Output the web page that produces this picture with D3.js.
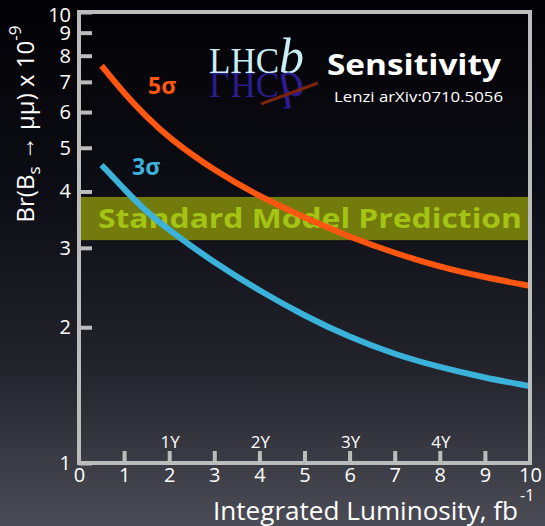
<!DOCTYPE html>
<html>
<head>
<meta charset="utf-8">
<script src="https://cdn.jsdelivr.net/npm/d3@7"></script>
<style>
  html, body { margin: 0; padding: 0; background: #000; }
  svg { display: block; font-family: "Open Sans", "Noto Sans", sans-serif; }
</style>
</head>
<body>
<div id="chart"></div>
<script>
// luminosity points (fb^-1) and the two sensitivity curves (x 10^-9)
const lumi = [0.5, 1, 1.5, 2, 3, 4, 5, 6, 7, 8, 9, 10];
const sigma5 = [7.6, 6.6, 5.85, 5.25, 4.45, 3.9, 3.5, 3.17, 2.92, 2.72, 2.58, 2.47];
const sigma3 = [4.58, 4.05, 3.6, 3.28, 2.78, 2.41, 2.12, 1.9, 1.74, 1.63, 1.545, 1.48];
const smBand = [3.12, 3.89];
const xTicks = [0, 1, 2, 3, 4, 5, 6, 7, 8, 9, 10];
const yTicks = [1, 2, 3, 4, 5, 6, 7, 8, 9, 10];
const yearPos = [2, 4, 6, 8];
const yearLabels = ['1Y', '2Y', '3Y', '4Y'];

const width = 545, height = 526;
const margin = { top: 12, right: 15, bottom: 63, left: 79 };

const svg = d3.select('#chart').append('svg')
    .attr('width', width)
    .attr('height', height);

// background gradient
const defs = svg.append('defs');
const grad = defs.append('linearGradient')
    .attr('id', 'bg').attr('x1', 0).attr('y1', 0).attr('x2', 0).attr('y2', 1);
grad.append('stop').attr('offset', '0%').attr('stop-color', '#020205');
grad.append('stop').attr('offset', '35%').attr('stop-color', '#0c0c14');
grad.append('stop').attr('offset', '70%').attr('stop-color', '#23232c');
grad.append('stop').attr('offset', '100%').attr('stop-color', '#4c4c56');
svg.append('rect').attr('width', width).attr('height', height).attr('fill', 'url(#bg)');

const x = d3.scaleLinear().domain([0, 10]).range([margin.left, width - margin.right]);
const y = d3.scaleLog().domain([1, 10]).range([height - margin.bottom, margin.top]);

// Standard Model band
svg.append('rect')
    .attr('x', x(0))
    .attr('y', y(smBand[1]))
    .attr('width', x(10) - x(0))
    .attr('height', y(smBand[0]) - y(smBand[1]))
    .attr('fill', '#737b0d');
svg.append('text')
    .attr('x', x(0) + 19)
    .attr('y', (y(smBand[0]) + y(smBand[1])) / 2)
    .attr('dy', '0.35em')
    .attr('font-size', 26)
    .attr('font-weight', 'bold')
    .attr('fill', '#a3c413')
    .attr('textLength', 424)
    .attr('lengthAdjust', 'spacingAndGlyphs')
    .text('Standard Model Prediction');

// curves
const line = d3.line().x(d => x(d[0])).y(d => y(d[1])).curve(d3.curveBasis);
svg.append('path')
    .datum(lumi.map((l, i) => [l, sigma3[i]]))
    .attr('d', line)
    .attr('fill', 'none').attr('stroke', '#3bb2d9').attr('stroke-width', 6);
svg.append('path')
    .datum(lumi.map((l, i) => [l, sigma5[i]]))
    .attr('d', line)
    .attr('fill', 'none').attr('stroke', '#ff5612').attr('stroke-width', 6);

svg.append('text')
    .attr('x', 148).attr('y', 94)
    .attr('font-size', 23).attr('font-weight', 'bold').attr('fill', '#ff5612')
    .text('5σ');
svg.append('text')
    .attr('x', 132).attr('y', 175)
    .attr('font-size', 23).attr('font-weight', 'bold').attr('fill', '#3bb2d9')
    .text('3σ');

// axes frame
const frameColor = '#bcbcbc';
svg.append('rect')
    .attr('x', x(0)).attr('y', y(10))
    .attr('width', x(10) - x(0)).attr('height', y(1) - y(10))
    .attr('fill', 'none').attr('stroke', frameColor).attr('stroke-width', 4);

const yAxis = svg.append('g')
    .attr('transform', `translate(${x(0)},0)`)
    .call(d3.axisLeft(y).tickValues(yTicks).tickFormat(d3.format('d')).tickSizeInner(-13).tickSizeOuter(0).tickPadding(8));
yAxis.select('.domain').remove();
yAxis.selectAll('line').attr('stroke', frameColor).attr('stroke-width', 4);
yAxis.selectAll('text').attr('fill', '#ffffff').attr('font-size', 20).attr('font-family', '"Open Sans", sans-serif');
yAxis.selectAll('.tick').filter(d => d === 10).select('text').attr('dy', '0.45em');

const xAxis = svg.append('g')
    .attr('transform', `translate(0,${y(1)})`)
    .call(d3.axisBottom(x).tickValues(xTicks).tickSizeInner(-12).tickSizeOuter(0).tickPadding(5));
xAxis.select('.domain').remove();
xAxis.selectAll('line').attr('stroke', frameColor).attr('stroke-width', 4)
    .attr('display', d => (d === 0 || d === 10) ? 'none' : null);
xAxis.selectAll('text').attr('fill', '#ffffff').attr('font-size', 20).attr('font-family', '"Open Sans", sans-serif');

// year markers
svg.selectAll('.year')
    .data(yearPos)
    .enter().append('text')
    .attr('class', 'year')
    .attr('x', d => x(d) + 1)
    .attr('y', y(1) - 15)
    .attr('text-anchor', 'middle')
    .attr('font-size', 17)
    .attr('fill', '#ffffff')
    .text((d, i) => yearLabels[i]);

// axis titles
const yTitle = svg.append('text')
    .attr('transform', 'translate(34,124) rotate(-90)')
    .attr('text-anchor', 'middle')
    .attr('font-size', 24)
    .attr('fill', '#ffffff');
yTitle.append('tspan').text('Br(B');
yTitle.append('tspan').attr('font-size', 17).attr('dy', 6).text('s');
yTitle.append('tspan').attr('dy', -6).text(' → μμ) x 10');
yTitle.append('tspan').attr('font-size', 17).attr('dy', -13).text('-9');

svg.append('text')
    .attr('x', 213).attr('y', 520)
    .attr('font-size', 25)
    .attr('fill', '#ffffff')
    .attr('textLength', 305)
    .attr('lengthAdjust', 'spacingAndGlyphs')
    .text('Integrated Luminosity, fb');
svg.append('text')
    .attr('x', 520).attr('y', 501)
    .attr('font-size', 16).attr('fill', '#ffffff')
    .text('-1');

// LHCb logo with its reflection
const logo = svg.append('g');
const logoText = (g, fill) => {
    const t = g.append('text')
        .attr('font-family', '"Liberation Serif", "DejaVu Serif", serif')
        .attr('font-size', 35)
        .attr('fill', fill);
    t.append('tspan').text('LHC');
    t.append('tspan').attr('font-style', 'italic').attr('font-size', 50).text('b');
    return t;
};
logoText(logo.append('g').attr('transform', 'translate(209,73)'), '#c9eef5');
logoText(logo.append('g').attr('transform', 'translate(209,73) scale(1,-1)'), '#2c1c8e');
logo.append('line')
    .attr('x1', 261).attr('y1', 104).attr('x2', 318).attr('y2', 83)
    .attr('stroke', '#7a2410').attr('stroke-width', 3);

svg.append('text')
    .attr('x', 327).attr('y', 75)
    .attr('font-size', 29).attr('font-weight', 'bold').attr('fill', '#ffffff')
    .attr('textLength', 174).attr('lengthAdjust', 'spacingAndGlyphs')
    .text('Sensitivity');
svg.append('text')
    .attr('x', 334).attr('y', 102)
    .attr('font-size', 15).attr('fill', '#ffffff')
    .attr('textLength', 169).attr('lengthAdjust', 'spacingAndGlyphs')
    .text('Lenzi arXiv:0710.5056');
</script>
</body>
</html>
